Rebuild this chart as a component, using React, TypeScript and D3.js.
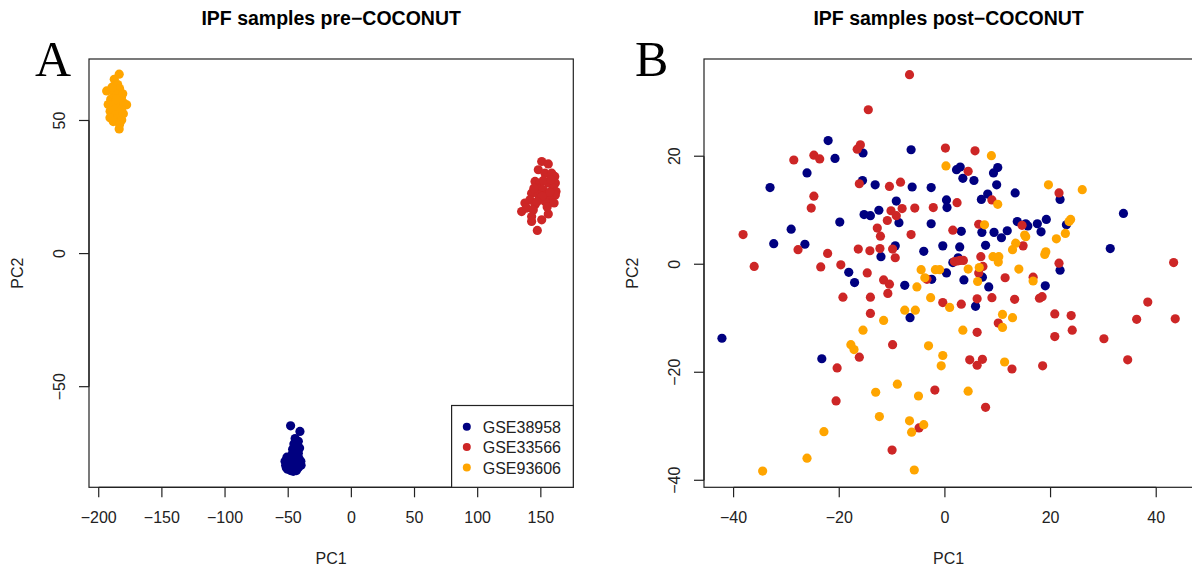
import React from "react";
import * as d3 from "d3";

// ---------- Data ----------
const seriesNames = ["GSE38958", "GSE33566", "GSE93606"];
const seriesColors = ["#000080", "#CD2626", "#FFA500"];

// Panel A (pre-COCONUT) [PC1, PC2]
const preGSE38958: [number, number][] = [
  [-48.1, -64.7], [-40.7, -66.8], [-44.5, -69.5], [-42, -70.5], [-45.5, -71.5], [-43, -72.5],
  [-41, -73], [-46.5, -73.5], [-44, -74.5], [-42, -75], [-47, -75.5], [-51, -76.5], [-49, -77],
  [-46.5, -77], [-44, -77.5], [-41.5, -77], [-40, -78], [-52.5, -78], [-50.5, -78.5], [-48, -79],
  [-45.5, -78.5], [-43, -79], [-41, -79.5], [-52, -79.5], [-49.5, -80], [-47, -80.5], [-44.5, -80.5],
  [-42, -80.5], [-50.5, -81], [-48, -81.5], [-46, -81.8], [-43.5, -81.5], [-39.8, -79.5],
  [-51.5, -80.5], [-45, -76], [-47.5, -78],
];
const preGSE33566: [number, number][] = [
  [150.7, 34.6], [155.9, 33.7], [148, 31.5], [153.3, 30.2], [158.6, 30.2], [161, 29], [145.4, 27.1],
  [149.3, 26.5], [155.9, 26.5], [161.5, 26.5], [146.7, 24.6], [151.9, 24], [159.8, 24.6], [162, 23.3],
  [142.7, 22.7], [148, 22.1], [154.6, 22.1], [161.5, 22], [141.4, 20.2], [149.3, 20.8], [157.2, 20.2],
  [160.5, 19], [137.4, 19], [145.4, 18.3], [153.3, 19.6], [134.8, 15.8], [138.8, 17.1], [144, 16.4],
  [142.7, 13.9], [155.9, 14.9], [142.7, 12.1], [150.7, 12.7], [147.2, 8.7], [152, 27.5], [157, 23],
  [151, 21.5], [147, 19.5], [155, 17.5], [158, 27.8], [144.5, 24.5],
];
const preGSE93606: [number, number][] = [
  [-183.8, 67.4], [-187.7, 65.5], [-185, 63.5], [-193.7, 61.1], [-183.5, 62], [-188, 60.5],
  [-185.5, 59.5], [-182, 58.5], [-190.5, 58], [-187, 57.5], [-192.5, 56], [-184, 56], [-180, 56.5],
  [-177.9, 55.9], [-189, 55], [-186, 54.5], [-182, 54], [-191, 53.5], [-184, 52.5], [-187.5, 52],
  [-180.5, 52.5], [-191.1, 51], [-185, 50.5], [-181.8, 50.2], [-188.5, 49.6], [-183.5, 48.5],
  [-183.8, 46.8], [-186, 58], [-189.5, 62.5], [-181, 60],
];

// Panel B (post-COCONUT) [PC1, PC2]
const postGSE38958: [number, number][] = [
  [-22.1, 22.9], [-20.8, 19.6], [-15.5, 20.6], [-6.4, 21.2], [-26.1, 16.9], [-33.1, 14.2],
  [-15.6, 15.5], [-13.2, 14.7], [-6.2, 14.3], [-2.6, 14.2], [-9.2, 11.7], [0.3, 11.9], [0.4, 10.5],
  [2.2, 17.5], [2.9, 18.0], [3.4, 15.9], [5.5, 15.5], [9.2, 16.9], [10.0, 17.9], [9.8, 14.7],
  [8.1, 13.0], [6.9, 12.0], [13.3, 13.2], [21.8, 12.0], [-12.5, 10.0], [-15.3, 9.2], [-14.1, 9.0],
  [-19.9, 7.8], [-8.7, 7.7], [-2.6, 7.5], [-29.1, 6.5], [-32.4, 3.8], [-26.5, 3.7], [-9.4, 3.4],
  [-12.1, 1.4], [-4.0, 2.4], [-0.4, 3.4], [3.1, 6.1], [2.8, 3.2], [2.5, 1.2], [1.5, 0.3], [7.0, 5.9],
  [9.3, 5.9], [11.8, 6.2], [10.7, 4.9], [7.7, 3.5], [13.7, 7.9], [15.3, 7.5], [15.7, 7.1], [17.5, 7.5],
  [18.2, 6.0], [19.2, 8.3], [23.0, 7.3], [33.8, 9.4], [31.3, 2.9], [-18.2, -1.5], [-17.1, -3.4],
  [-7.6, -3.9], [0.3, -1.6], [3.6, -2.9], [-2.5, -2.8], [7.1, -2.4], [8.3, -4.2], [19.0, -4.0],
  [21.8, -1.1], [5.8, -7.8], [-6.6, -9.9], [-42.2, -13.7], [-23.3, -17.5],
];
const postGSE33566: [number, number][] = [
  [-6.7, 35.1], [-14.5, 28.6], [-16.0, 22.1], [-16.6, 21.3], [-28.6, 19.3], [-24.8, 20.2],
  [-23.7, 19.5], [0.1, 21.5], [5.7, 21.0], [4.4, 17.2], [-16.2, 14.9], [-8.4, 15.2], [-10.5, 14.4],
  [-24.8, 12.6], [-25.3, 10.4], [2.3, 11.4], [8.9, 11.9], [21.6, 13.2], [-5.7, 10.4], [-2.2, 10.5],
  [-10.2, 9.9], [-8.1, 10.3], [-9.2, 9.0], [-10.9, 8.1], [-12.8, 6.7], [-12.2, 5.2], [-6.4, 5.5],
  [-38.2, 5.5], [6.4, 7.4], [14.6, 7.2], [1.5, 6.3], [-27.8, 2.7], [-22.2, 2.0], [-16.4, 2.8],
  [-14.2, 2.5], [-12.3, 2.9], [-9.9, 2.8], [-9.4, 1.2], [-36.1, -0.4], [-23.5, -0.5], [-19.7, -0.1],
  [-14.7, -1.6], [-11.6, -2.9], [-10.5, -3.7], [-10.8, -5.4], [-14.1, -6.1], [-19.3, -6.1],
  [6.8, 1.4], [7.2, -0.4], [6.4, -1.6], [14.8, 3.4], [11.4, -2.5], [16.7, -2.4], [21.6, 0.2],
  [43.3, 0.3], [3.1, -7.4], [-0.4, -7.1], [6.1, -6.4], [8.9, -6.2], [13.2, -6.5], [17.9, -6.3],
  [18.4, -6.0], [20.8, -9.2], [23.9, -9.5], [10.1, -10.9], [38.4, -7.0], [36.3, -10.2], [43.6, -10.1],
  [24.1, -12.2], [20.8, -13.4], [30.1, -13.8], [6.1, -12.6], [-14.1, -9.1], [-9.9, -14.9],
  [-16.2, -17.2], [-20.4, -19.2], [4.7, -17.7], [7.1, -17.6], [6.1, -18.7], [18.5, -18.8],
  [12.7, -19.4], [34.6, -17.7], [-1.9, -23.3], [-20.6, -25.3], [7.7, -26.5], [-4.9, -30.3],
  [-10.0, -34.4], [1.8, 0.5], [2.4, 0.6], [2.9, 0.7], [3.5, 0.7], [-3.4, -2.8],
];
const postGSE93606: [number, number][] = [
  [8.8, 20.1], [0.2, 18.2], [19.6, 14.7], [26.0, 13.8], [10.0, 11.1], [7.5, 7.3], [23.8, 8.3],
  [23.5, 7.9], [22.8, 5.7], [21.1, 4.7], [15.1, 5.4], [15.3, 5.1], [13.4, 3.9], [12.8, 2.7],
  [18.9, 1.8], [19.1, 2.3], [9.1, 1.4], [10.2, 1.4], [10.1, 0.4], [14.0, -0.9], [6.5, -0.6],
  [4.4, -0.9], [6.2, -3.2], [-1.8, -1.0], [-1.0, -1.0], [-4.5, -1.0], [-3.8, -2.5], [-5.3, -4.2],
  [-2.7, -6.2], [0.9, -8.0], [-7.6, -8.5], [-5.6, -8.5], [-11.6, -10.4], [-15.5, -12.2], [3.4, -12.2],
  [10.9, -9.3], [12.8, -9.9], [10.9, -11.7], [16.7, -3.1], [-17.8, -14.9], [-17.2, -15.8],
  [-3.1, -15.1], [-0.4, -16.9], [-0.7, -18.8], [11.3, -18.1], [-9.0, -22.2], [-13.1, -23.7],
  [-5.0, -24.4], [4.4, -23.5], [-12.4, -28.2], [-6.7, -29.0], [-6.3, -31.1], [-4.0, -29.7],
  [-22.9, -31.0], [-26.1, -35.9], [-34.5, -38.3], [-5.8, -38.1],
];

const preTicksX = [-200, -150, -100, -50, 0, 50, 100, 150];
const preTicksY = [-50, 0, 50];
const postTicksX = [-40, -20, 0, 20, 40];
const postTicksY = [-40, -20, 0, 20];

const FONT = "'Liberation Sans', Arial, Helvetica, sans-serif";
const SERIF = "'Liberation Serif', 'Times New Roman', serif";

const fmt = (v: number) => (v < 0 ? "\u2212" + Math.abs(v) : String(v));

type PanelProps = {
  title: string;
  letter: string;
  letterX: number;
  xDomain: [number, number];
  yDomain: [number, number];
  xRange: [number, number];
  yRange: [number, number];
  ticksX: number[];
  ticksY: number[];
  series: [number, number][][];
  legend?: boolean;
  clipId: string;
};

function Panel(p: PanelProps) {
  const x = d3.scaleLinear().domain(p.xDomain).range(p.xRange);
  const y = d3.scaleLinear().domain(p.yDomain).range(p.yRange);
  const [x0, x1] = p.xRange;
  const [y0, y1] = [p.yRange[1], p.yRange[0]]; // top, bottom
  const cx = (x0 + x1) / 2;
  const tickLen = 10;
  const stroke = "#222";
  return (
    <g>
      <text x={cx} y={25} textAnchor="middle" fontFamily={FONT} fontWeight="bold" fontSize={19.5} fill="#000">
        {p.title}
      </text>
      <text x={p.letterX} y={76} fontFamily={SERIF} fontSize={50} fill="#000">
        {p.letter}
      </text>
      <defs>
        <clipPath id={p.clipId}>
          <rect x={x0} y={y0} width={x1 - x0} height={y1 - y0} />
        </clipPath>
      </defs>
      <g clipPath={`url(#${p.clipId})`}>
        {p.series.map((pts, si) =>
          pts.map((d, i) => (
            <circle key={`${si}-${i}`} cx={x(d[0])} cy={y(d[1])} r={4.6} fill={seriesColors[si]} />
          ))
        )}
      </g>
      <rect x={x0} y={y0} width={x1 - x0} height={y1 - y0} fill="none" stroke={stroke} strokeWidth={1.2} />
      {/* x axis */}
      <line x1={x(p.ticksX[0])} x2={x(p.ticksX[p.ticksX.length - 1])} y1={y1} y2={y1} stroke={stroke} strokeWidth={1.2} />
      {p.ticksX.map((t) => (
        <g key={"tx" + t}>
          <line x1={x(t)} x2={x(t)} y1={y1} y2={y1 + tickLen} stroke={stroke} strokeWidth={1.2} />
          <text x={x(t)} y={523} textAnchor="middle" fontFamily={FONT} fontSize={16} fill="#222">
            {fmt(t)}
          </text>
        </g>
      ))}
      {/* y axis */}
      <line x1={x0} x2={x0} y1={y(p.ticksY[0])} y2={y(p.ticksY[p.ticksY.length - 1])} stroke={stroke} strokeWidth={1.2} />
      {p.ticksY.map((t) => (
        <g key={"ty" + t}>
          <line x1={x0 - tickLen} x2={x0} y1={y(t)} y2={y(t)} stroke={stroke} strokeWidth={1.2} />
          <text
            transform={`translate(${x0 - 24},${y(t)}) rotate(-90)`}
            textAnchor="middle"
            fontFamily={FONT}
            fontSize={16}
            fill="#222"
          >
            {fmt(t)}
          </text>
        </g>
      ))}
      <text x={cx} y={564} textAnchor="middle" fontFamily={FONT} fontSize={16} fill="#222">
        PC1
      </text>
      <text
        transform={`translate(${x0 - 66},${(y0 + y1) / 2}) rotate(-90)`}
        textAnchor="middle"
        fontFamily={FONT}
        fontSize={16}
        fill="#222"
      >
        PC2
      </text>
      {p.legend && (
        <g>
          <rect x={451.6} y={405.5} width={x1 - 451.6} height={y1 - 405.5} fill="#fff" stroke={stroke} strokeWidth={1.2} />
          {seriesNames.map((n, i) => (
            <g key={n}>
              <circle cx={466.8} cy={426.7 + i * 20.4} r={4} fill={seriesColors[i]} />
              <text x={482.7} y={426.7 + i * 20.4 + 6} fontFamily={FONT} fontSize={16} fill="#222">
                {n}
              </text>
            </g>
          ))}
        </g>
      )}
    </g>
  );
}

export default function App() {
  return (
    <svg
      width={1192}
      height={570}
      style={{ position: "absolute", left: 0, top: 0, background: "#fff" }}
    >
      <rect x={0} y={0} width={1192} height={570} fill="#fff" />
      <Panel
        title={"IPF samples pre\u2212COCONUT"}
        letter="A"
        letterX={35}
        xDomain={[-207.7, 175.7]}
        yDomain={[-87.8, 73.1]}
        xRange={[89, 573.3]}
        yRange={[487.3, 59]}
        ticksX={preTicksX}
        ticksY={preTicksY}
        series={[preGSE38958, preGSE33566, preGSE93606]}
        legend
        clipId="clipA"
      />
      <Panel
        title={"IPF samples post\u2212COCONUT"}
        letter="B"
        letterX={635}
        xDomain={[-45.6, 47.0]}
        yDomain={[-41.3, 38.0]}
        xRange={[704, 1193.2]}
        yRange={[487.3, 59]}
        ticksX={postTicksX}
        ticksY={postTicksY}
        series={[postGSE38958, postGSE33566, postGSE93606]}
        clipId="clipB"
      />
    </svg>
  );
}
